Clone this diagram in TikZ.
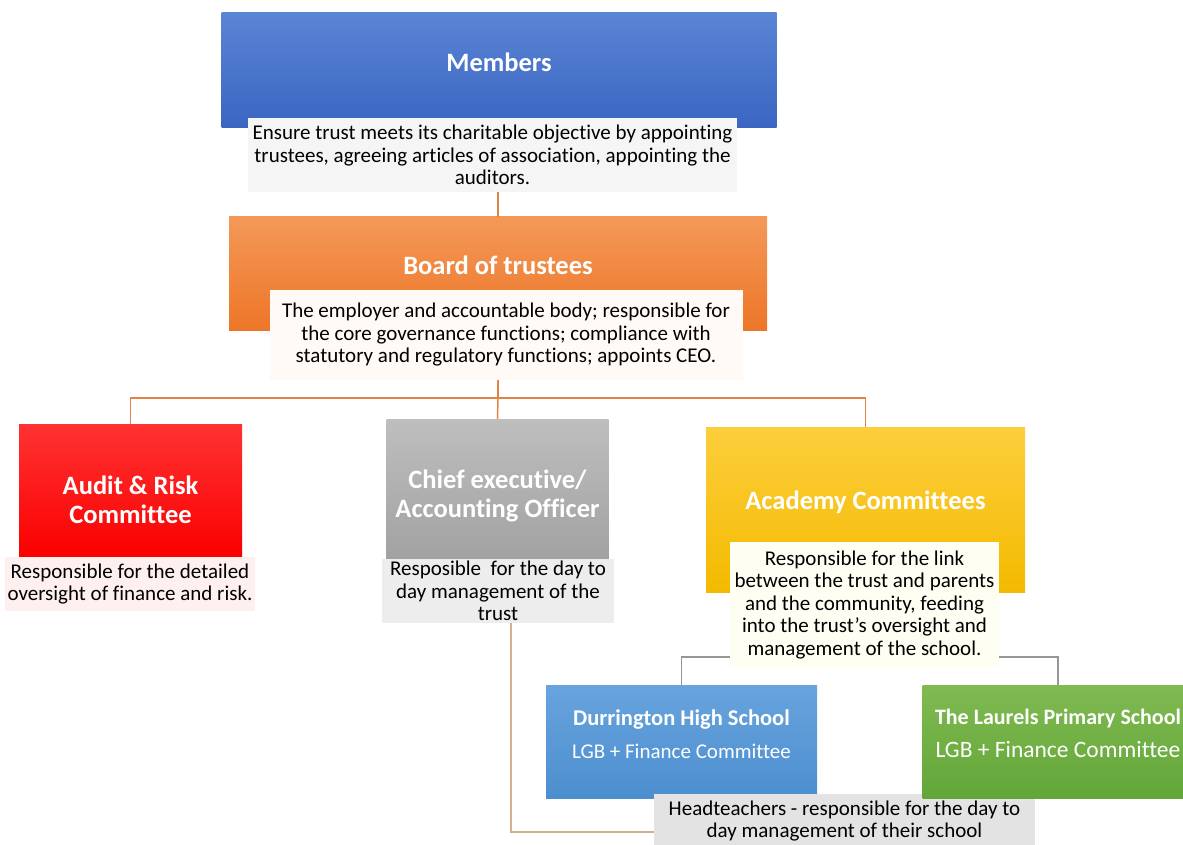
\documentclass[tikz,border=0pt]{standalone}
\usepackage{fontspec}
\setmainfont{Carlito}[Ligatures=NoCommon]
\usepackage{tikz}
\usetikzlibrary{positioning, calc}
\definecolor{memblue}{RGB}{58, 102, 194}
\definecolor{memblueL}{RGB}{90, 132, 212}
\definecolor{boardorange}{RGB}{237, 118, 40}
\definecolor{boardorangeL}{RGB}{244, 152, 88}
\definecolor{auditred}{RGB}{250, 0, 0}
\definecolor{auditredL}{RGB}{255, 50, 50}
\definecolor{ceogray}{RGB}{160, 160, 160}
\definecolor{ceograyL}{RGB}{190, 190, 190}
\definecolor{acadgold}{RGB}{244, 186, 0}
\definecolor{acadgoldL}{RGB}{252, 206, 60}
\definecolor{durblue}{RGB}{76, 142, 206}
\definecolor{durblueL}{RGB}{104, 164, 222}
\definecolor{laurgreen}{RGB}{98, 166, 56}
\definecolor{laurgreenL}{RGB}{128, 186, 82}
\definecolor{linkorange}{RGB}{226, 130, 70}
\definecolor{linktan}{RGB}{212, 176, 140}
\definecolor{linkgray}{RGB}{150, 150, 150}
\tikzset{
    titlebox/.style = {rectangle, inner sep=0pt},
    titletext/.style = {text=white, font=\fontsize{26.5}{29}\selectfont\bfseries, align=center},
    schooltext/.style = {text=white, font=\fontsize{21}{25}\selectfont, align=center},
    descbox/.style = {rectangle, inner sep=0pt, align=center, text=black, font=\fontsize{21}{22.5}\selectfont},
    orgline/.style = {draw=linkorange, line width=1.5pt},
    grayline/.style = {draw=linkgray, line width=1.2pt},
    tanline/.style = {draw=linktan, line width=1.2pt}
}

\begin{document}
\begin{tikzpicture}[x=1pt, y=-1pt]
\useasboundingbox (0,0) rectangle (1183,845);
\clip (0,0) rectangle (1183,845);

\node (members) [titlebox, top color=memblueL, bottom color=memblue, minimum width=555pt, minimum height=115pt,
    label={[titletext, yshift=8pt]center:Members}] at (499,70.5) {};
\node (membersdesc) [descbox, fill=white!96!black, minimum width=489pt, minimum height=74pt] at (492.5,155)
    {Ensure trust meets its charitable objective by appointing\\ trustees, agreeing articles of association, appointing the\\ auditors.};

\node (board) [titlebox, top color=boardorangeL, bottom color=boardorange, minimum width=538pt, minimum height=113pt,
    label={[titletext, yshift=8pt]center:Board of trustees}] at (498,273.5) {};
\node (boarddesc) [descbox, fill=white!96!orange, minimum width=473pt, minimum height=90pt] at (506,335)
    {The employer and accountable body; responsible for\\ the core governance functions; compliance with\\ statutory and regulatory functions; appoints CEO.};

\node (audit) [titlebox, top color=auditredL, bottom color=auditred, minimum width=223pt, minimum height=133pt,
    label={[titletext, yshift=-9pt]center:Audit \& Risk\\ Committee}] at (130.5,490.5) {};
\node (auditdesc) [descbox, fill=white!94!red, minimum width=250pt, minimum height=54pt] at (130,584)
    {Responsible for the detailed\\ oversight of finance and risk.};

\node (ceo) [titlebox, top color=ceograyL, bottom color=ceogray, minimum width=222pt, minimum height=149pt,
    label={[titletext, yshift=-2pt]center:Chief executive/\\ Accounting Officer}] at (497.5,493.5) {};
\node (ceodesc) [descbox, fill=white!93!black, minimum width=232pt, minimum height=64pt] at (498,591)
    {Resposible\ \ for the day to\\ day management of the\\ trust};

\node (academy) [titlebox, top color=acadgoldL, bottom color=acadgold, minimum width=319pt, minimum height=165pt,
    label={[titletext, yshift=7.5pt]center:Academy Committees}] at (865.5,509.5) {};
\node (academydesc) [descbox, fill=white!95!yellow, minimum width=269pt, minimum height=126pt] at (864.5,605)
    {Responsible for the link\\ between the trust and parents\\ and the community, feeding\\ into the trust's oversight and\\ management of the school.};

\node (durrington) [titlebox, top color=durblueL, bottom color=durblue, minimum width=271pt, minimum height=113pt,
    label={[schooltext, yshift=7.5pt]center:{\fontsize{22.5}{25}\selectfont\bfseries Durrington High School}\\[8pt] LGB + Finance Committee}] at (681.5,741.5) {};
\node (headdesc) [descbox, fill=white!89!black, minimum width=381pt, minimum height=54pt] at (844.5,821)
    {Headteachers - responsible for the day to\\ day management of their school};
\node (laurels) [titlebox, top color=laurgreenL, bottom color=laurgreen, minimum width=271pt, minimum height=113pt,
    label={[schooltext, yshift=8pt]center:{\fontsize{22}{25}\selectfont\bfseries The Laurels Primary School}\\[8pt] {\fontsize{23.5}{27}\selectfont LGB + Finance Committee}}] at (1058,741.5) {};

\coordinate (bus) at (498,398);
\coordinate (acadlink) at (864.5,657);

\draw [orgline] (board.north) -- (board.north |- membersdesc.south);
\draw [orgline] (bus |- boarddesc.south) -- (bus);
\draw [orgline] (audit.north) |- (bus) -| (academy.north);
\draw [orgline] (bus) -- (ceo.north);
\draw [grayline] (acadlink -| academydesc.west) -| (durrington.north);
\draw [grayline] (acadlink -| academydesc.east) -| (laurels.north);
\draw [tanline] ([xshift=13pt]ceodesc.south) |- ([yshift=-11pt]headdesc.west);
\end{tikzpicture}
\end{document}
